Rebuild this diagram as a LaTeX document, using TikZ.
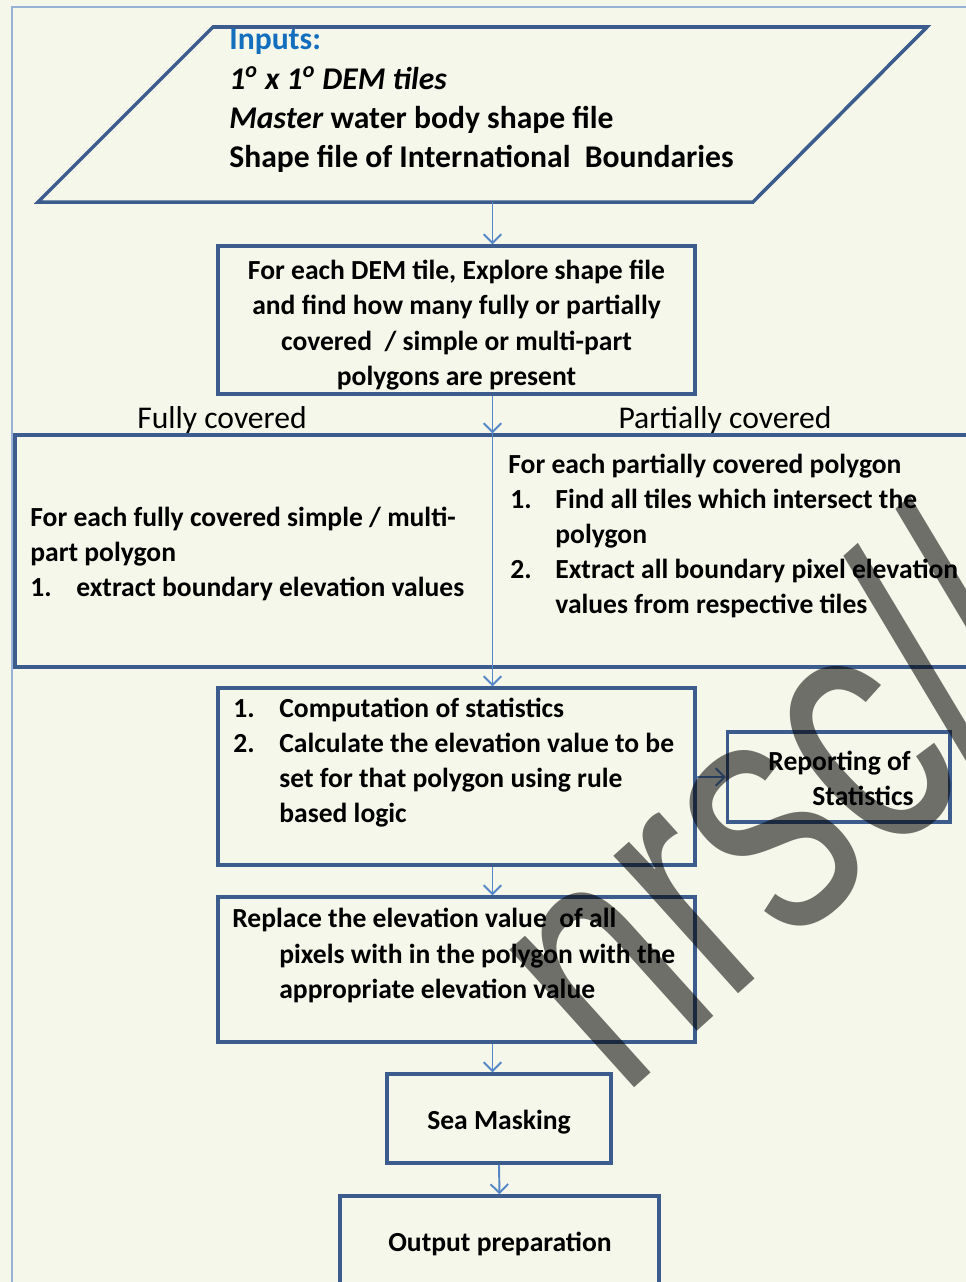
\documentclass[tikz,border=0pt]{standalone}
\usepackage{fontspec}
\setmainfont{Carlito}
\newfontfamily\wmfont[FakeStretch=0.72]{Liberation Sans}
\usetikzlibrary{arrows.meta}
\definecolor{paper}{RGB}{245,247,234}
\definecolor{boxblue}{RGB}{59,92,140}
\definecolor{linkblue}{RGB}{84,134,200}
\definecolor{frameblue}{RGB}{150,178,214}
\definecolor{inblue}{RGB}{20,110,190}
\newcommand{\itm}[1]{\makebox[0.92cm][l]{#1}}
\tikzset{
  box/.style={draw=boxblue,line width=2pt,rectangle,inner sep=0pt},
  link/.style={draw=linkblue,line width=1.1pt,-{Straight Barb[length=5pt,width=10pt]}},
  txt/.style={inner sep=0pt,anchor=base west,font=\fontsize{15.7}{20}\selectfont\bfseries},
  intxt/.style={txt,font=\fontsize{18}{22}\selectfont\bfseries},
  head/.style={inner sep=0pt,anchor=base,font=\fontsize{18}{22}\selectfont},
  wmark/.style={inner sep=0pt,text=black,text opacity=0.55,font=\fontsize{200}{200}\selectfont\wmfont}
}
\begin{document}
\begin{tikzpicture}[x=0.02cm,y=-0.02cm]
\useasboundingbox (0,0) rectangle (966,1282);
\clip (0,0) rectangle (966,1282);
\fill[paper] (0,0) rectangle (966,1282);
\draw[frameblue,line width=0.8pt] (12,1300)--(12,7)--(990,7);
\coordinate (axis) at (492.5,0);
% inputs
\draw[boxblue,line width=2pt] (213,27)--(927,27)--(753,202)--(38,202)--cycle;
\coordinate (inbot) at (492.5,202);
\node[intxt,text=inblue] (in1) at (229,49) {Inputs:};
\node[intxt] (in2) at (229,89) {\itshape 1\textsuperscript{o} x 1\textsuperscript{o} DEM tiles};
\node[intxt] (in3) at (229,128) {\textit{Master} water body shape file};
\node[intxt] (in4) at (229,167) {Shape file of International\ \ Boundaries};
% explore
\node[box,minimum width=9.54cm,minimum height=2.96cm] (box1) at (456.5,320) {};
\node[txt,anchor=base] (e1) at (456.5,279) {For each DEM tile, Explore shape file};
\node[txt,anchor=base] (e2) at (456.5,314) {and find how many fully or partially};
\node[txt,anchor=base] (e3) at (456.5,350) {covered\ \ / simple or multi-part};
\node[txt,anchor=base] (e4) at (456.5,385) {polygons are present};
% fully / partially
\node[head] (hfull) at (222,428) {Fully covered};
\node[head] (hpart) at (725,428) {Partially covered};
\node[box,minimum width=19.5cm,minimum height=4.64cm] (big) at (502.5,551) {};
\node[txt] (f1) at (30,526) {For each fully covered simple / multi-};
\node[txt] (f2) at (30,561) {part polygon};
\node[txt] (f3) at (30,596) {\itm{1.}extract boundary elevation values};
\node[txt] (p1) at (508,473) {For each partially covered polygon};
\node[txt] (p2) at (510,508) {\makebox[0.9cm][l]{1.}Find all tiles which intersect the};
\node[txt] (p3) at (555,543) {polygon};
\node[txt] (p4) at (510,578) {\makebox[0.9cm][l]{2.}Extract all boundary pixel elevation};
\node[txt] (p5) at (555,613) {values from respective tiles};
% statistics
\node[box,minimum width=9.54cm,minimum height=3.54cm] (box2) at (456.5,776.5) {};
\node[txt] (c1) at (233,717) {\itm{1.}Computation of statistics};
\node[txt] (c2) at (233,752) {\itm{2.}Calculate the elevation value to be};
\node[txt] (c3) at (279,787) {set for that polygon using rule};
\node[txt] (c4) at (279,822) {based logic};
\node[box,minimum width=4.45cm,minimum height=1.8cm] (report) at (838.75,777) {};
\node[txt,anchor=base east] (rep1) at (911,770) {Reporting of};
\node[txt,anchor=base east] (rep2) at (914,805) {Statistics};
% replace
\node[box,minimum width=9.54cm,minimum height=2.9cm] (box3) at (456.5,969.5) {};
\node[txt] (r1) at (232,927) {Replace the elevation value\ \ of all};
\node[txt] (r2) at (279,963) {pixels with in the polygon with the};
\node[txt] (r3) at (279,998) {appropriate elevation value};
% sea and output
\node[box,minimum width=4.48cm,minimum height=1.78cm] (box4) at (499,1118.5) {};
\node[txt,anchor=base] (sea) at (499,1129) {Sea Masking};
\node[box,minimum width=6.38cm,minimum height=2.48cm] (box5) at (499.5,1258) {};
\node[txt,anchor=base] (out) at (500,1251) {Output preparation};
% connectors
\draw[link] (inbot) -- (axis |- box1.north);
\draw[link] (axis |- box1.south) -- (axis |- big.north);
\draw[linkblue,line width=1.1pt] (axis |- big.north) -- (axis |- big.south);
\draw[link] (axis |- big.south) -- (axis |- box2.north);
\draw[link] (box2.east |- report.west) -- (report.west);
\draw[link] (axis |- box2.south) -- (axis |- box3.north);
\draw[link] (axis |- box3.south) -- (axis |- box4.north);
\draw[link] (box4.south) -- (box5.north);
% watermark
\node[wmark,rotate=42] (wm) at (767,799) {nrsc//};
\end{tikzpicture}
\end{document}
